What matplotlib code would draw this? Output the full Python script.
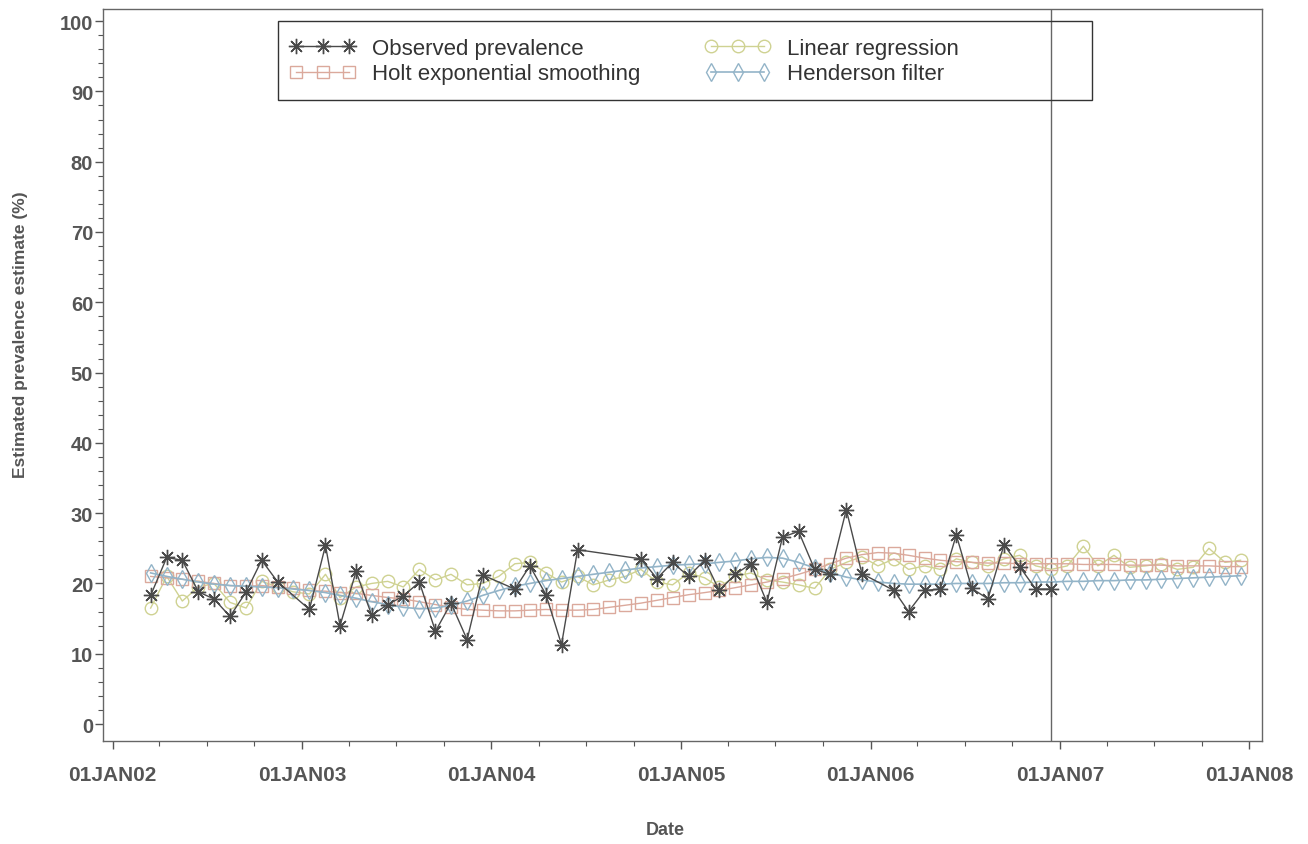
import pandas as pd
import matplotlib
matplotlib.use('Agg')
import matplotlib.pyplot as plt
import matplotlib.dates as mdates
from matplotlib.patches import Rectangle

plt.rcParams['font.family'] = ['Liberation Sans', 'DejaVu Sans']

# Observed prevalence (monthly survey, some months missing)
obs_months = ['2002-03', '2002-04', '2002-05', '2002-06', '2002-07', '2002-08', '2002-09', '2002-10', '2002-11',
              '2003-01', '2003-02', '2003-03', '2003-04', '2003-05', '2003-06', '2003-07', '2003-08', '2003-09',
              '2003-10', '2003-11', '2003-12',
              '2004-02', '2004-03', '2004-04', '2004-05', '2004-06',
              '2004-10', '2004-11', '2004-12',
              '2005-01', '2005-02', '2005-03', '2005-04', '2005-05', '2005-06', '2005-07', '2005-08', '2005-09',
              '2005-10', '2005-11', '2005-12',
              '2006-02', '2006-03', '2006-04', '2006-05', '2006-06', '2006-07', '2006-08', '2006-09', '2006-10',
              '2006-11', '2006-12']
observed = [18.3, 23.7, 23.3, 18.8, 17.8, 15.3, 18.8, 23.3, 20.2,
            16.3, 25.4, 14.0, 21.7, 15.5, 17.0, 18.2, 20.2, 13.2,
            17.2, 12.0, 21.2,
            19.2, 22.5, 18.4, 11.3, 24.8,
            23.5, 20.7, 23.0,
            21.0, 23.3, 19.0, 21.3, 22.8, 17.3, 26.6, 27.4, 22.0,
            21.3, 30.5, 21.4,
            19.0, 16.0, 19.0, 19.2, 26.9, 19.3, 17.8, 25.5, 22.4,
            19.2, 19.2]

# Model series: monthly Mar 2002 - Dec 2007
holt = [21.0, 20.8, 20.6, 20.3, 20.0, 19.7, 19.6, 19.7, 19.5, 19.3,
        19.0, 18.9, 18.7, 18.6, 18.3, 18.0, 17.8, 17.4, 17.0, 16.6, 16.3, 16.2,
        16.1, 16.1, 16.2, 16.3, 16.2, 16.2, 16.3, 16.6, 16.9, 17.2, 17.6, 18.0,
        18.4, 18.7, 19.0, 19.4, 19.8, 20.2, 20.7, 21.3, 22.0, 22.8, 23.6, 24.1,
        24.4, 24.3, 24.0, 23.6, 23.3, 23.1, 23.0, 22.9, 22.9, 22.8, 22.8, 22.8,
        22.8, 22.7, 22.7, 22.7, 22.6, 22.6, 22.6, 22.5, 22.5, 22.5, 22.4, 22.4]
linreg = [16.5, 21.0, 17.5, 19.5, 20.0, 17.3, 16.5, 20.3, 19.5, 18.8,
          18.5, 21.3, 18.0, 19.5, 20.0, 20.3, 19.5, 22.0, 20.5, 21.3, 19.8, 20.0,
          21.0, 22.8, 23.0, 21.5, 20.2, 21.0, 19.8, 20.5, 21.0, 22.0, 20.2, 19.8,
          21.5, 20.8, 19.5, 21.0, 21.5, 20.5, 20.2, 19.8, 19.3, 22.0, 23.0, 23.8,
          22.5, 23.5, 22.0, 22.5, 22.0, 23.5, 23.0, 22.5, 23.5, 24.0, 22.5, 22.0,
          22.5, 25.3, 22.5, 24.0, 22.3, 22.5, 22.8, 22.0, 22.3, 25.0, 23.0, 23.3]
henderson = [21.5, 21.0, 20.6, 20.2, 19.9, 19.7, 19.6, 19.5, 19.4, 19.2,
             19.0, 18.7, 18.3, 17.9, 17.4, 17.0, 16.6, 16.4, 16.5, 16.9, 17.5, 18.3,
             19.0, 19.6, 20.0, 20.4, 20.7, 21.0, 21.3, 21.6, 21.9, 22.2, 22.4, 22.6,
             22.7, 22.8, 23.0, 23.2, 23.5, 23.7, 23.6, 23.0, 22.2, 21.5, 20.9, 20.5,
             20.2, 20.0, 19.9, 19.9, 19.9, 20.0, 20.0, 20.0, 20.1, 20.1, 20.2, 20.2,
             20.3, 20.3, 20.4, 20.4, 20.5, 20.5, 20.6, 20.7, 20.8, 20.9, 21.0, 21.1]

last_obs = '2006-12-15'

# dates mid-month
obs_dates = pd.to_datetime(obs_months) + pd.Timedelta(days=14)
model_dates = pd.date_range('2002-03-01', '2007-12-01', freq='MS') + pd.Timedelta(days=14)

fig = plt.figure(figsize=(13.08, 8.45), dpi=100)
ax = fig.add_axes([0.0787, 0.122, 0.886, 0.866])

grey = '#555555'
asterisk = (8, 2, 0)

ax.plot(obs_dates, observed, color='#4a4a4a', lw=1.0, marker=asterisk, ms=11, mew=1.0,
        label='Observed prevalence', zorder=5)
ax.plot(model_dates, holt, color='#dba99c', lw=1.0, marker='s', ms=8, mfc='none', mew=1.0,
        label='Holt exponential smoothing', zorder=3)
ax.plot(model_dates, linreg, color='#cfd292', lw=1.0, marker='o', ms=9, mfc='none', mew=1.0,
        label='Linear regression', zorder=2)
ax.plot(model_dates, henderson, color='#93b4c8', lw=1.2, marker='d', ms=9, mfc='none', mew=1.0,
        label='Henderson filter', zorder=4)

# end of observed data
ax.axvline(pd.Timestamp(last_obs), color='#666666', lw=1.0, zorder=1)

ax.set_xlim(pd.Timestamp('2002-01-01') - pd.Timedelta(days=19), pd.Timestamp('2008-01-01') + pd.Timedelta(days=24))
ax.set_ylim(-2.4, 101.7)

ax.xaxis.set_major_locator(mdates.YearLocator())
ax.xaxis.set_major_formatter(plt.FuncFormatter(lambda v, p: mdates.num2date(v).strftime('%d%b%y').upper()))
ax.xaxis.set_minor_locator(mdates.MonthLocator(bymonth=[4, 7, 10]))
ax.set_yticks(range(0, 101, 10))
ax.set_yticks(range(0, 101, 2), minor=True)

ax.tick_params(axis='both', which='major', direction='out', length=6, width=1, colors=grey,
               labelsize=15)
ax.tick_params(axis='both', which='minor', direction='out', length=3.5, width=0.8, colors=grey)
ax.tick_params(axis='x', which='major', pad=11)
ax.tick_params(axis='y', which='major', pad=1, labelsize=14.5)
for lab in ax.get_xticklabels() + ax.get_yticklabels():
    lab.set_fontweight('bold')

for s in ax.spines.values():
    s.set_color('#666666')
    s.set_linewidth(1.0)

ax.set_xlabel('Date', fontsize=13, fontweight='bold', color=grey)
ax.set_ylabel('Estimated prevalence estimate (%)', fontsize=12.5, fontweight='bold', color=grey)
ax.xaxis.set_label_coords(0.485, -0.11)
ax.yaxis.set_label_coords(-0.065, 0.556)

# legend text without frame, box drawn separately (SAS style)
leg = ax.legend(loc='upper left', bbox_to_anchor=(0.1455, 0.985), ncol=2, fontsize=16,
                numpoints=3, handlelength=3.0, handletextpad=0.7, columnspacing=2.9,
                labelspacing=0.2, borderpad=0.3, frameon=False)
for t in leg.get_texts():
    t.set_color('#333333')
ax.add_patch(Rectangle((0.1511, 0.8757), 0.7023, 0.108, transform=ax.transAxes,
                       fill=False, edgecolor='#333333', lw=1.0, zorder=6))

plt.savefig('out.png', dpi=100)
